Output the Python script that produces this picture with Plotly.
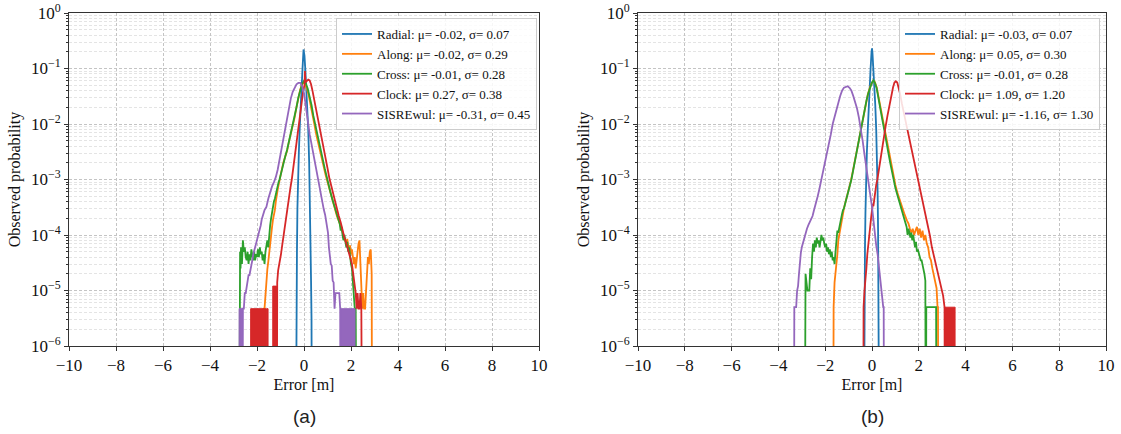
import plotly.graph_objects as go

# ---------------- data ----------------
ONE_COUNT_A = 4.7e-6
ONE_COUNT_B = 5.0e-6

# ---- panel (a) ----
radial_a_x = [-0.36, -0.34, -0.32, -0.30, -0.28, -0.26, -0.22, -0.18, -0.14, -0.10, -0.06, -0.02, 0.02, 0.06, 0.10, 0.14, 0.18, 0.22, 0.24, 0.26, 0.28, 0.30, 0.32, 0.34]
radial_a_y = [0, 2e-6, 1e-5, 5e-5, 3e-4, 1e-3, 3e-3, 9e-3, 2.5e-2, 5.5e-2, 1.05e-1, 2.2e-1, 1.7e-1, 9e-2, 4.5e-2, 2e-2, 8e-3, 2e-3, 8e-4, 3e-4, 8e-5, 1.5e-5, 3e-6, 0]

along_a_x = [-1.76, -1.72, -1.68, -1.64, -1.60, -1.56, -1.52, -1.48, -1.44, -1.40, -1.36, -1.32, -1.28, -1.24, -1.20, -1.16, -1.12, -1.08, -1.04, -0.96, -0.88, -0.80, -0.72, -0.64, -0.56, -0.48, -0.40, -0.32, -0.24, -0.16, -0.08, -0.02, 0.04, 0.12, 0.20, 0.28, 0.36, 0.44, 0.52, 0.60, 0.68, 0.76, 0.84, 0.92, 1.00, 1.08, 1.16, 1.24, 1.32, 1.40, 1.48, 1.56, 1.64, 1.72, 1.80, 1.84, 1.88, 1.92, 1.96, 2.00, 2.04, 2.08, 2.12, 2.16, 2.20, 2.24, 2.28, 2.32, 2.36, 2.40, 2.44, 2.48, 2.52, 2.56, 2.60, 2.64, 2.68, 2.72, 2.76, 2.80, 2.84, 2.88, 2.90]
along_a_y = [0, 4.7e-6, 4.7e-6, 9.4e-6, 1.4e-5, 2.4e-5, 3.3e-5, 5e-5, 8e-5, 1e-4, 1.4e-4, 1.9e-4, 2.3e-4, 2.8e-4, 4e-4, 5.5e-4, 6.5e-4, 8e-4, 1e-3, 1.4e-3, 2e-3, 2.5e-3, 3.3e-3, 4.8e-3, 6.5e-3, 9e-3, 1.3e-2, 2.0e-2, 3.0e-2, 4.2e-2, 5.2e-2, 5.6e-2, 5.3e-2, 4.4e-2, 3.3e-2, 2.3e-2, 1.5e-2, 1.0e-2, 6.5e-3, 4.5e-3, 3.2e-3, 2.3e-3, 1.7e-3, 1.2e-3, 9e-4, 7e-4, 5e-4, 3.8e-4, 3e-4, 2.2e-4, 1.8e-4, 1.4e-4, 1.1e-4, 9e-5, 7e-5, 8.5e-5, 6e-5, 5e-5, 6.5e-5, 4.5e-5, 5.5e-5, 4e-5, 3e-5, 4e-5, 2.5e-5, 3.5e-5, 5.5e-5, 7e-5, 8e-5, 3e-5, 1e-5, 4.7e-6, 9e-6, 4.7e-6, 4.7e-6, 1e-5, 2.5e-5, 4e-5, 3e-5, 5e-5, 5.5e-5, 2e-5, 0]

cross_a_x = [-2.76, -2.74, -2.72, -2.70, -2.68, -2.64, -2.60, -2.56, -2.52, -2.48, -2.44, -2.40, -2.36, -2.32, -2.28, -2.24, -2.20, -2.16, -2.12, -2.08, -2.04, -2.00, -1.96, -1.92, -1.88, -1.84, -1.80, -1.76, -1.72, -1.68, -1.64, -1.60, -1.56, -1.52, -1.48, -1.44, -1.40, -1.36, -1.32, -1.28, -1.24, -1.20, -1.16, -1.12, -1.08, -1.04, -0.96, -0.88, -0.80, -0.72, -0.64, -0.56, -0.48, -0.40, -0.32, -0.24, -0.16, -0.08, 0.00, 0.08, 0.16, 0.24, 0.32, 0.40, 0.48, 0.56, 0.64, 0.72, 0.80, 0.88, 0.96, 1.04, 1.12, 1.20, 1.28, 1.36, 1.44, 1.52, 1.56, 1.60, 1.64, 1.68, 1.72, 1.76, 1.80, 1.84, 1.88, 1.92, 1.96, 2.00, 2.04, 2.08, 2.12, 2.16, 2.20, 2.24]
cross_a_y = [0, 4.7e-6, 5e-5, 2.5e-5, 6e-5, 3e-5, 8e-5, 5e-5, 6e-5, 4e-5, 3.5e-5, 5e-5, 3e-5, 4.5e-5, 3.5e-5, 5.5e-5, 4e-5, 3.5e-5, 5e-5, 3.5e-5, 4.5e-5, 4e-5, 5.5e-5, 4e-5, 6e-5, 4.5e-5, 5e-5, 3.5e-5, 4.5e-5, 3e-5, 5e-5, 7e-5, 8e-5, 6e-5, 1.1e-4, 1.5e-4, 2e-4, 2.6e-4, 3e-4, 4e-4, 4.5e-4, 5.5e-4, 7e-4, 8e-4, 9e-4, 1.0e-3, 1.4e-3, 2e-3, 2.6e-3, 3.4e-3, 4.8e-3, 6.5e-3, 9e-3, 1.3e-2, 2.0e-2, 3.0e-2, 4.2e-2, 5.3e-2, 6.0e-2, 5.4e-2, 4.3e-2, 3.2e-2, 2.2e-2, 1.4e-2, 9.5e-3, 6.5e-3, 4.6e-3, 3.3e-3, 2.3e-3, 1.6e-3, 1.1e-3, 8e-4, 6e-4, 4.5e-4, 3.5e-4, 2.5e-4, 2e-4, 1.6e-4, 1.2e-4, 1.4e-4, 1e-4, 8e-5, 1e-4, 7e-5, 6e-5, 7.5e-5, 5e-5, 6e-5, 4e-5, 3e-5, 2.5e-5, 1.5e-5, 9e-6, 4.7e-6, 4.7e-6, 0]

clock_a_x = [-1.16, -1.14, -1.10, -1.06, -1.02, -0.98, -0.94, -0.90, -0.86, -0.82, -0.78, -0.74, -0.70, -0.64, -0.58, -0.52, -0.46, -0.40, -0.34, -0.28, -0.22, -0.16, -0.10, -0.04, 0.02, 0.04, 0.06, 0.12, 0.18, 0.24, 0.30, 0.36, 0.42, 0.48, 0.54, 0.60, 0.68, 0.76, 0.84, 0.92, 1.00, 1.08, 1.16, 1.24, 1.32, 1.40, 1.48, 1.56, 1.64, 1.72, 1.80, 1.88, 1.96, 2.04, 2.10, 2.16, 2.20, 2.24, 2.28, 2.32, 2.36, 2.40, 2.44, 2.48]
clock_a_y = [0, 1.4e-5, 2.3e-5, 2.8e-5, 3.2e-5, 4.5e-5, 6e-5, 8e-5, 1.1e-4, 1.4e-4, 1.9e-4, 2.5e-4, 3.3e-4, 4.8e-4, 7e-4, 1e-3, 1.6e-3, 2.8e-3, 4.2e-3, 6.5e-3, 1.0e-2, 1.6e-2, 2.6e-2, 3.8e-2, 5.0e-2, 9e-2, 5.6e-2, 6.0e-2, 6.3e-2, 6.1e-2, 5.2e-2, 4.0e-2, 3.0e-2, 2.2e-2, 1.6e-2, 1.2e-2, 8e-3, 5.5e-3, 3.6e-3, 2.4e-3, 1.6e-3, 1.05e-3, 7.5e-4, 5.5e-4, 4e-4, 3e-4, 2.2e-4, 1.7e-4, 1.2e-4, 9e-5, 7e-5, 5e-5, 4e-5, 3e-5, 2e-5, 1.2e-5, 9e-6, 4.7e-6, 9e-6, 4.7e-6, 4.7e-6, 9e-6, 4.7e-6, 0]
clock_a_blocks = [(-2.27, -1.60, ONE_COUNT_A), (-1.58, -1.53, ONE_COUNT_A), (-1.33, -1.17, 1.2e-5)]

sisre_a_x = [-2.62, -2.60, -2.56, -2.52, -2.48, -2.44, -2.40, -2.36, -2.32, -2.28, -2.24, -2.20, -2.16, -2.12, -2.08, -2.04, -2.00, -1.96, -1.92, -1.88, -1.84, -1.80, -1.76, -1.72, -1.68, -1.64, -1.60, -1.52, -1.44, -1.36, -1.28, -1.20, -1.12, -1.04, -0.96, -0.88, -0.80, -0.72, -0.64, -0.56, -0.48, -0.40, -0.32, -0.24, -0.16, -0.08, 0.00, 0.06, 0.12, 0.18, 0.24, 0.30, 0.36, 0.42, 0.48, 0.54, 0.60, 0.66, 0.72, 0.78, 0.84, 0.90, 0.96, 1.02, 1.06, 1.10, 1.14, 1.18, 1.22, 1.26, 1.30, 1.34, 1.38, 1.42, 1.46, 1.50, 1.54, 1.56]
sisre_a_y = [0, 4.7e-6, 4.7e-6, 9e-6, 9e-6, 1.2e-5, 1.4e-5, 1.9e-5, 1.9e-5, 2.5e-5, 3e-5, 3.5e-5, 4.5e-5, 5e-5, 6e-5, 7e-5, 8e-5, 9e-5, 1.1e-4, 1.3e-4, 1.5e-4, 1.9e-4, 2.2e-4, 2.5e-4, 2.8e-4, 3e-4, 3.2e-4, 4.5e-4, 6e-4, 7.5e-4, 9e-4, 1.1e-3, 1.5e-3, 2.3e-3, 3.5e-3, 5.5e-3, 8.5e-3, 1.3e-2, 2e-2, 2.9e-2, 3.8e-2, 4.6e-2, 5.2e-2, 5.5e-2, 5.5e-2, 4.8e-2, 3.6e-2, 2.4e-2, 1.5e-2, 1.0e-2, 6.5e-3, 4.8e-3, 3.5e-3, 2.5e-3, 1.7e-3, 1.2e-3, 9e-4, 7e-4, 5e-4, 3.8e-4, 2.9e-4, 2.3e-4, 1.6e-4, 1.1e-4, 6e-5, 4e-5, 3e-5, 2.8e-5, 1.5e-5, 1.4e-5, 4.7e-6, 9e-6, 9e-6, 9e-6, 9e-6, 9e-6, 4.7e-6, 0]
sisre_a_blocks = [(-2.76, -2.64, ONE_COUNT_A), (1.56, 2.17, ONE_COUNT_A)]

# ---- panel (b) ----
radial_b_x = [-0.36, -0.34, -0.32, -0.30, -0.28, -0.26, -0.22, -0.18, -0.14, -0.10, -0.06, -0.02, 0.00, 0.02, 0.06, 0.10, 0.14, 0.18, 0.22, 0.24, 0.26, 0.28, 0.30, 0.32]
radial_b_y = [0, 2e-6, 1.5e-5, 6e-5, 2.5e-4, 8e-4, 3e-3, 8e-3, 2.2e-2, 5e-2, 1.0e-1, 2.0e-1, 2.3e-1, 1.9e-1, 1.0e-1, 5e-2, 2.2e-2, 8e-3, 2e-3, 6e-4, 1.2e-4, 3e-5, 6e-6, 0]

along_b_x = [-1.66, -1.64, -1.60, -1.56, -1.52, -1.48, -1.44, -1.40, -1.36, -1.32, -1.28, -1.24, -1.20, -1.14, -1.06, -0.98, -0.90, -0.82, -0.74, -0.66, -0.58, -0.50, -0.42, -0.34, -0.26, -0.18, -0.10, -0.02, 0.06, 0.12, 0.20, 0.28, 0.36, 0.44, 0.52, 0.60, 0.70, 0.80, 0.90, 1.00, 1.10, 1.20, 1.30, 1.40, 1.50, 1.56, 1.62, 1.68, 1.74, 1.80, 1.86, 1.92, 1.98, 2.04, 2.10, 2.16, 2.22, 2.28, 2.34, 2.40, 2.46, 2.52, 2.58, 2.64, 2.70, 2.76, 2.80, 2.82, 2.84]
along_b_y = [0, 5e-6, 1.4e-5, 2e-5, 3e-5, 4.5e-5, 8e-5, 1.0e-4, 1.4e-4, 1.8e-4, 2.2e-4, 2.6e-4, 3e-4, 3.8e-4, 5e-4, 7e-4, 9.5e-4, 1.4e-3, 2.1e-3, 3e-3, 4.6e-3, 7e-3, 1.1e-2, 1.7e-2, 2.5e-2, 3.4e-2, 4.4e-2, 5.4e-2, 6.0e-2, 5.7e-2, 4.6e-2, 3.2e-2, 2.1e-2, 1.35e-2, 9e-3, 6e-3, 3.4e-3, 2e-3, 1.25e-3, 8e-4, 5.5e-4, 4e-4, 3e-4, 2.3e-4, 1.8e-4, 1.6e-4, 1.3e-4, 1.1e-4, 1.3e-4, 1.0e-4, 1.2e-4, 1.4e-4, 1.0e-4, 1.3e-4, 9e-5, 1.2e-4, 8e-5, 1.0e-4, 7e-5, 6e-5, 4e-5, 3.5e-5, 2.5e-5, 1.8e-5, 1.3e-5, 1.1e-5, 5e-6, 5e-6, 0]

cross_b_x = [-2.88, -2.86, -2.84, -2.80, -2.76, -2.72, -2.68, -2.64, -2.60, -2.56, -2.52, -2.48, -2.44, -2.40, -2.36, -2.32, -2.28, -2.24, -2.20, -2.16, -2.12, -2.08, -2.04, -2.00, -1.96, -1.92, -1.88, -1.84, -1.80, -1.76, -1.72, -1.68, -1.64, -1.60, -1.56, -1.52, -1.48, -1.44, -1.40, -1.36, -1.32, -1.28, -1.24, -1.20, -1.16, -1.12, -1.04, -0.96, -0.88, -0.80, -0.72, -0.64, -0.56, -0.48, -0.40, -0.32, -0.24, -0.16, -0.08, 0.00, 0.06, 0.12, 0.20, 0.28, 0.36, 0.44, 0.52, 0.60, 0.70, 0.80, 0.90, 1.00, 1.10, 1.20, 1.30, 1.40, 1.48, 1.52, 1.56, 1.60, 1.64, 1.68, 1.72, 1.76, 1.80, 1.84, 1.88, 1.92, 1.96, 2.00, 2.04, 2.08, 2.12, 2.16, 2.20, 2.24, 2.28, 2.30, 2.32, 2.74, 2.76]
cross_b_y = [0, 5e-6, 2e-5, 1.4e-5, 1.0e-5, 1.0e-5, 1.0e-5, 2.5e-5, 1.6e-5, 4e-5, 7e-5, 5e-5, 8e-5, 6e-5, 9e-5, 7e-5, 8e-5, 6e-5, 9e-5, 1.0e-4, 8e-5, 9e-5, 7e-5, 6e-5, 7e-5, 5e-5, 6e-5, 4.5e-5, 5.5e-5, 4e-5, 5e-5, 3.5e-5, 4e-5, 3e-5, 5e-5, 1.0e-4, 1.2e-4, 1.1e-4, 1.4e-4, 1.6e-4, 2e-4, 2.4e-4, 2.8e-4, 3e-4, 3.5e-4, 4e-4, 5.5e-4, 7e-4, 1e-3, 1.5e-3, 2.3e-3, 3.2e-3, 5e-3, 8e-3, 1.2e-2, 1.8e-2, 2.6e-2, 3.6e-2, 4.6e-2, 5.6e-2, 6.1e-2, 5.6e-2, 4.4e-2, 3.0e-2, 1.9e-2, 1.2e-2, 8e-3, 5.5e-3, 3e-3, 1.8e-3, 1.1e-3, 7e-4, 5e-4, 3.6e-4, 2.6e-4, 1.9e-4, 1.4e-4, 1.0e-4, 1.3e-4, 1.1e-4, 9e-5, 1.1e-4, 8e-5, 1.0e-4, 7e-5, 6e-5, 7.5e-5, 5e-5, 5.5e-5, 4.5e-5, 4e-5, 3.5e-5, 3.5e-5, 3e-5, 2.5e-5, 2e-5, 1.5e-5, 0, 5e-6, 5e-6, 0]

clock_b_x = [-0.38, -0.36, -0.32, -0.28, -0.24, -0.20, -0.16, -0.12, -0.08, -0.04, 0.00, 0.04, 0.06, 0.10, 0.14, 0.18, 0.23, 0.30, 0.36, 0.42, 0.50, 0.58, 0.66, 0.74, 0.82, 0.90, 0.96, 1.02, 1.08, 1.14, 1.20, 1.28, 1.36, 1.44, 1.52, 1.60, 1.68, 1.76, 1.84, 1.92, 2.00, 2.08, 2.16, 2.24, 2.32, 2.40, 2.48, 2.56, 2.64, 2.72, 2.80, 2.88, 2.96, 3.04, 3.10, 3.12]
clock_b_y = [0, 5e-6, 1e-5, 1.4e-5, 2.5e-5, 4.5e-5, 7e-5, 1e-4, 1.4e-4, 2e-4, 2.8e-4, 3.6e-4, 3.3e-4, 4.5e-4, 6.5e-4, 8e-4, 1e-3, 1.6e-3, 2.4e-3, 3.4e-3, 5.5e-3, 9e-3, 1.4e-2, 2.2e-2, 3.3e-2, 4.6e-2, 5.6e-2, 5.9e-2, 5.6e-2, 4.6e-2, 3.5e-2, 2.3e-2, 1.6e-2, 1.1e-2, 7.8e-3, 5.5e-3, 3.9e-3, 2.8e-3, 1.9e-3, 1.3e-3, 9.5e-4, 6.5e-4, 4.3e-4, 2.9e-4, 2e-4, 1.4e-4, 9.5e-5, 6e-5, 4.3e-5, 3e-5, 2.1e-5, 1.5e-5, 1.2e-5, 8e-6, 5e-6, 0]
clock_b_blocks = [(3.12, 3.55, ONE_COUNT_B)]

sisre_b_x = [-3.34, -3.32, -3.28, -3.24, -3.20, -3.16, -3.12, -3.08, -3.04, -3.00, -2.96, -2.90, -2.84, -2.78, -2.72, -2.66, -2.60, -2.54, -2.48, -2.40, -2.32, -2.24, -2.16, -2.08, -2.00, -1.92, -1.84, -1.76, -1.68, -1.60, -1.52, -1.44, -1.36, -1.28, -1.20, -1.12, -1.04, -0.96, -0.88, -0.80, -0.72, -0.64, -0.56, -0.48, -0.40, -0.32, -0.24, -0.16, -0.08, 0.00, 0.06, 0.12, 0.18, 0.24, 0.30, 0.36, 0.42, 0.48, 0.50, 0.52]
sisre_b_y = [0, 5e-6, 5e-6, 5e-6, 1e-5, 1.2e-5, 2e-5, 3.5e-5, 4.8e-5, 6e-5, 7e-5, 8.5e-5, 1.0e-4, 1.3e-4, 1.5e-4, 1.7e-4, 1.9e-4, 2.2e-4, 2.8e-4, 3.6e-4, 5e-4, 7e-4, 1e-3, 1.5e-3, 2.2e-3, 3.2e-3, 4.6e-3, 6.5e-3, 1e-2, 1.4e-2, 1.9e-2, 2.4e-2, 3.2e-2, 4.0e-2, 4.5e-2, 4.7e-2, 4.8e-2, 4.5e-2, 4.0e-2, 3.2e-2, 2.5e-2, 1.9e-2, 1.3e-2, 8.5e-3, 5e-3, 2.8e-3, 1.5e-3, 8e-4, 5.5e-4, 3.2e-4, 1.8e-4, 1e-4, 6.5e-5, 4.5e-5, 2.5e-5, 1.2e-5, 8e-6, 5e-6, 5e-6, 0]

legend_a = ["Radial: μ= -0.02, σ= 0.07", "Along: μ= -0.02, σ= 0.29", "Cross: μ= -0.01, σ= 0.28",
            "Clock: μ= 0.27, σ= 0.38", "SISREwul: μ= -0.31, σ= 0.45"]
legend_b = ["Radial: μ= -0.03, σ= 0.07", "Along: μ= 0.05, σ= 0.30", "Cross: μ= -0.01, σ= 0.28",
            "Clock: μ= 1.09, σ= 1.20", "SISREwul: μ= -1.16, σ= 1.30"]

x_ticks = [-10, -8, -6, -4, -2, 0, 2, 4, 6, 8, 10]
y_exponents = [-6, -5, -4, -3, -2, -1, 0]

COLORS = ["#1f77b4", "#ff7f0e", "#2ca02c", "#d62728", "#9467bd"]
ZERO = 1e-9  # empty bins fall below the axis (as in matplotlib log plots)

panels = [
    dict(xa="x", ya="y", legend="legend", names=legend_a,
         series=[(radial_a_x, radial_a_y, []), (along_a_x, along_a_y, []), (cross_a_x, cross_a_y, []),
                 (clock_a_x, clock_a_y, clock_a_blocks), (sisre_a_x, sisre_a_y, sisre_a_blocks)]),
    dict(xa="x2", ya="y2", legend="legend2", names=legend_b,
         series=[(radial_b_x, radial_b_y, []), (along_b_x, along_b_y, []), (cross_b_x, cross_b_y, []),
                 (clock_b_x, clock_b_y, clock_b_blocks), (sisre_b_x, sisre_b_y, [])]),
]

fig = go.Figure()
for p in panels:
    for (xs, ys, blocks), name, col in zip(p["series"], p["names"], COLORS):
        fig.add_trace(go.Scatter(x=xs, y=[v if v > 0 else ZERO for v in ys], mode="lines",
                                 line=dict(color=col, width=1.8), name=name,
                                 xaxis=p["xa"], yaxis=p["ya"], legend=p["legend"]))
        for (x0, x1, h) in blocks:
            fig.add_trace(go.Scatter(x=[x0, x0, x1, x1, x0], y=[ZERO, h, h, ZERO, ZERO],
                                     mode="lines", fill="toself", fillcolor=col,
                                     line=dict(color=col, width=1), showlegend=False,
                                     xaxis=p["xa"], yaxis=p["ya"], hoverinfo="skip"))

SERIF = "Liberation Serif"
tickfont = dict(family=SERIF, size=17, color="#111")
minor_vals = [m * 10.0 ** e for e in range(-6, 0) for m in range(2, 10)]

def xaxis(domain, anchor):
    return dict(domain=domain, anchor=anchor, range=[-10, 10], tickmode="array", tickvals=x_ticks,
                automargin=False,
                showline=True, linecolor="#333", linewidth=1, mirror=True,
                ticks="outside", ticklen=4, tickcolor="#333", tickfont=tickfont,
                showgrid=True, gridcolor="#c4c4c4", griddash="3px,2px", gridwidth=0.8, zeroline=False,
                title=dict(text="Error [m]", font=dict(family=SERIF, size=16, color="#111"), standoff=4))

def yaxis(domain, anchor):
    return dict(domain=domain, anchor=anchor, type="log", range=[-6, 0], tickmode="array",
                automargin=False,
                tickvals=[10.0 ** e for e in y_exponents],
                ticktext=["10<sup>%s</sup>" % (str(e).replace("-", "\u2212")) for e in y_exponents],
                showline=True, linecolor="#333", linewidth=1, mirror=True,
                ticks="outside", ticklen=4, tickcolor="#333", tickfont=tickfont,
                showgrid=True, gridcolor="#c4c4c4", griddash="3px,2px", gridwidth=0.8, zeroline=False,
                minor=dict(tickmode="array", tickvals=minor_vals, ticks="outside", ticklen=2,
                           tickcolor="#333", showgrid=True, gridcolor="#e4e4e4", griddash="3px,2px", gridwidth=0.7),
                title=dict(text="Observed probability", font=dict(family=SERIF, size=16, color="#111"), standoff=6))

W, H = 1121, 434
ydom = [1 - 346 / H, 1 - 13 / H]
legend_style = dict(font=dict(family=SERIF, size=13, color="#111"), bgcolor="rgba(255,255,255,0.85)",
                    bordercolor="#cccccc", borderwidth=1, itemwidth=30, xanchor="right", yanchor="top",
                    tracegroupgap=0)

fig.update_layout(
    width=W, height=H, margin=dict(l=0, r=0, t=0, b=0, autoexpand=False),
    paper_bgcolor="white", plot_bgcolor="white",
    xaxis=xaxis([69 / W, 539 / W], "y"), yaxis=yaxis(ydom, "x"),
    xaxis2=xaxis([638 / W, 1106 / W], "y2"), yaxis2=yaxis(ydom, "x2"),
    legend=dict(x=537 / W, y=1 - 18 / H, **legend_style),
    legend2=dict(x=1100 / W, y=1 - 18 / H, **legend_style),
    annotations=[
        dict(text="(a)", x=304 / W, y=1 - 416 / H, xref="paper", yref="paper", showarrow=False,
             font=dict(family="Liberation Sans", size=19, color="#222"), xanchor="center", yanchor="middle"),
        dict(text="(b)", x=872 / W, y=1 - 416 / H, xref="paper", yref="paper", showarrow=False,
             font=dict(family="Liberation Sans", size=19, color="#222"), xanchor="center", yanchor="middle"),
    ],
)

fig.write_html("out.html")
